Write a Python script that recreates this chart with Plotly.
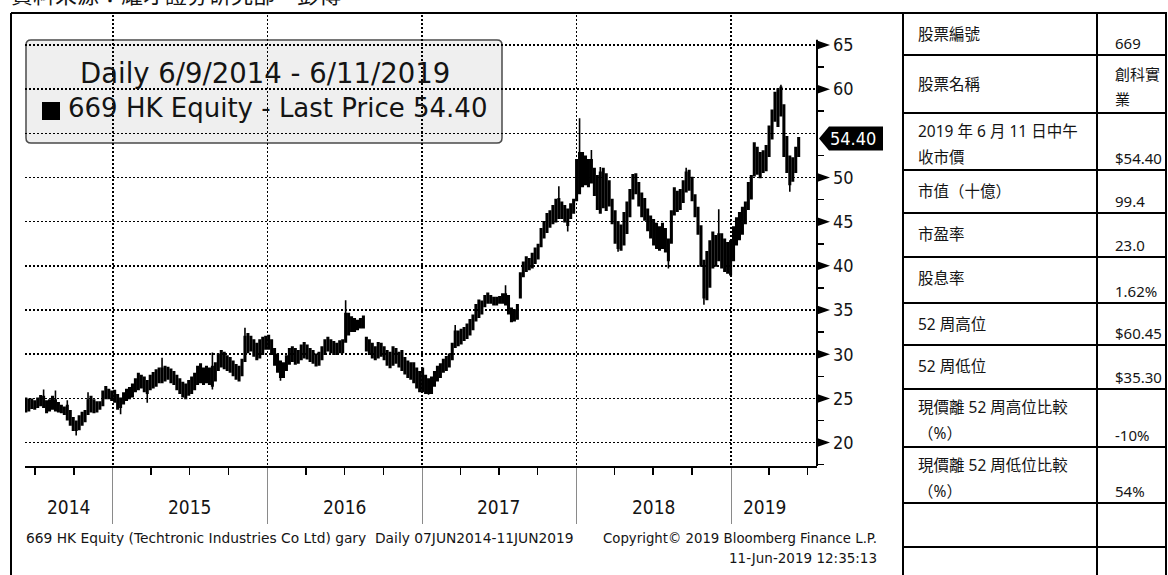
import pandas as pd
import plotly.graph_objects as go

# ---------------- data (weekly price band) ----------------
week_start = ["2014-06-09", "2015-01-05", "2016-01-04", "2017-01-02", "2018-01-01", "2018-12-31"]

lo_2014 = [23.5, 23.6, 23.9, 23.8, 24.0, 24.2, 24.0, 23.4, 23.6, 23.8, 23.6, 23.5, 23.4, 23.2, 22.6,
           22.0, 21.4, 21.4, 21.5, 22.0, 22.4, 23.2, 23.5, 23.4, 23.5, 23.8, 24.2, 25.0, 25.0, 24.8]
hi_2014 = [25.0, 24.9, 24.9, 24.7, 25.0, 25.3, 25.2, 24.7, 24.8, 25.2, 24.8, 24.5, 24.2, 24.0, 24.2,
           23.6, 22.8, 22.4, 23.0, 23.4, 23.6, 24.8, 25.2, 24.8, 24.6, 24.6, 25.8, 26.3, 26.0, 25.8]

lo_2015 = [24.6, 23.8, 24.0, 24.4, 24.8, 25.0, 25.2, 25.8, 26.0, 26.2, 25.8, 25.6, 26.0, 26.2, 26.4,
           26.8, 26.8, 27.0, 27.2, 26.8, 26.6, 26.0, 25.6, 25.2, 25.0, 25.4, 25.6, 26.0, 26.6, 26.8,
           26.6, 26.8, 26.6, 26.4, 27.0, 28.2, 28.6, 28.4, 28.2, 28.0, 27.6, 27.2, 27.0, 27.6, 29.2,
           30.2, 30.4, 29.8, 29.4, 29.6, 30.0, 30.6]
hi_2015 = [25.9, 25.4, 25.0, 25.6, 26.0, 26.2, 26.6, 27.2, 27.8, 27.6, 27.4, 27.0, 27.6, 27.9, 28.2,
           28.4, 28.4, 28.6, 28.5, 28.3, 28.0, 27.6, 27.2, 26.8, 26.6, 27.0, 27.4, 27.8, 28.6, 28.9,
           28.4, 28.6, 28.4, 28.6, 29.0, 30.0, 30.4, 30.2, 29.8, 29.6, 29.2, 28.8, 28.6, 29.4, 32.0,
           32.3, 32.0, 31.6, 31.2, 31.6, 31.9, 32.0]

lo_2016 = [30.6, 30.0, 28.8, 28.0, 27.4, 27.4, 28.2, 28.9, 29.2, 28.9, 29.0, 29.4, 29.6, 29.5, 29.2,
           29.0, 28.7, 28.8, 29.4, 30.0, 30.4, 30.2, 30.0, 30.0, 30.2, 30.2, 31.4, 32.2, 32.6, 32.6,
           32.8, 33.0, 33.0, 30.4, 30.0, 29.6, 29.4, 29.6, 29.8, 29.4, 28.8, 28.5, 28.8, 29.0, 28.6,
           28.2, 27.8, 27.4, 27.2, 26.8, 26.2, 25.8]
hi_2016 = [32.1, 31.6, 30.6, 30.0, 29.2, 29.0, 29.8, 30.6, 30.8, 30.6, 30.4, 31.0, 31.3, 31.0, 30.6,
           30.4, 30.0, 30.2, 30.8, 31.6, 31.9, 31.6, 31.4, 31.2, 31.5, 31.6, 34.6, 34.6, 34.2, 34.0,
           33.8, 34.0, 34.3, 31.9, 31.6, 31.2, 30.8, 31.3, 31.2, 30.8, 30.4, 30.2, 30.8, 30.6, 30.2,
           30.4, 29.6, 29.2, 29.0, 29.0, 28.4, 28.0]

lo_2017 = [25.8, 25.6, 25.6, 25.6, 26.4, 27.0, 27.4, 28.0, 28.2, 28.6, 29.4, 30.8, 31.0, 31.2, 31.6,
           31.8, 32.2, 32.8, 33.8, 34.2, 34.6, 35.4, 35.8, 35.8, 35.6, 35.6, 35.8, 35.8, 35.6, 34.6,
           33.7, 33.8, 34.0, 36.4, 38.8, 39.4, 39.6, 39.8, 40.3, 40.8, 42.2, 43.2, 43.8, 44.4, 44.8,
           45.0, 45.4, 45.4, 45.0, 44.6, 45.4, 46.0]
hi_2017 = [28.4, 27.6, 27.2, 27.4, 28.0, 28.6, 28.9, 29.4, 29.7, 30.0, 31.2, 32.6, 32.6, 32.8, 33.0,
           33.4, 33.9, 34.4, 35.6, 36.1, 36.0, 36.6, 36.9, 36.6, 36.4, 36.4, 36.5, 36.8, 36.8, 36.6,
           35.2, 35.0, 35.6, 39.2, 40.4, 41.0, 40.8, 41.4, 42.0, 42.4, 44.2, 45.0, 45.9, 46.2, 46.8,
           47.5, 47.6, 47.2, 46.8, 46.4, 47.0, 47.5]

lo_2018 = [47.4, 48.2, 49.0, 49.2, 49.0, 49.4, 48.0, 46.4, 46.0, 46.6, 46.3, 46.8, 44.8, 42.6, 42.0,
           41.8, 42.4, 43.7, 45.6, 47.6, 48.2, 46.8, 45.6, 45.2, 44.0, 43.2, 42.4, 42.0, 41.8, 42.0,
           41.6, 40.6, 42.6, 45.8, 46.2, 46.4, 47.2, 48.4, 48.6, 47.4, 45.6, 43.6, 40.0, 36.4, 36.2,
           37.6, 39.8, 40.0, 40.6, 39.8, 39.4, 39.2]
hi_2018 = [52.0, 52.8, 52.8, 52.4, 52.0, 52.0, 51.0, 50.2, 50.6, 51.0, 50.4, 49.6, 47.5, 46.2, 45.0,
           44.6, 46.0, 47.2, 48.6, 50.3, 50.4, 49.4, 48.2, 47.6, 46.4, 45.6, 45.2, 44.8, 44.4, 44.8,
           44.2, 43.0, 46.2, 48.8, 48.4, 48.6, 49.6, 50.6, 50.8, 50.0, 48.0, 46.6, 44.5, 40.6, 41.6,
           42.8, 43.8, 43.4, 43.6, 43.6, 43.0, 42.6]

lo_2019 = [39.0, 40.6, 42.4, 43.0, 43.6, 44.8, 46.4, 47.6, 50.2, 50.4, 50.0, 50.6, 50.8, 52.4, 54.4,
           56.4, 55.8, 57.0, 52.4, 50.6, 49.2, 49.6, 50.6, 52.4]
hi_2019 = [42.8, 44.4, 45.4, 46.0, 46.6, 47.2, 49.4, 50.2, 53.9, 53.4, 52.8, 53.0, 53.6, 55.8, 57.6,
           59.6, 60.0, 60.2, 58.2, 54.6, 52.4, 52.2, 53.4, 54.5]

spike_hi = {"2014-07-21": 26.0, "2014-08-18": 25.9, "2014-09-15": 24.8, "2014-11-03": 25.7,
            "2015-04-27": 29.6, "2015-08-24": 30.2, "2015-11-09": 33.0, "2016-07-04": 36.1,
            "2017-03-20": 33.3, "2017-07-17": 37.8, "2017-11-20": 49.0, "2018-01-08": 56.7,
            "2018-02-05": 53.1, "2018-02-26": 51.2, "2018-09-17": 51.1, "2018-12-03": 46.4,
            "2019-04-29": 60.5}
spike_lo = {"2014-10-06": 20.8, "2015-01-19": 23.2, "2015-03-23": 24.5, "2015-08-24": 26.0,
            "2016-02-01": 27.0, "2017-01-16": 25.4, "2017-12-11": 43.9, "2018-04-09": 41.6,
            "2018-08-06": 39.7, "2018-10-29": 35.6, "2019-05-20": 48.4}

last_price = 54.40
y_ticks = [20, 25, 30, 35, 40, 45, 50, 55, 60, 65]
y_ticktext = ["20", "25", "30", "35", "40", "45", "50", "", "60", "65"]
y_minor = [17.5, 22.5, 27.5, 32.5, 37.5, 42.5, 47.5, 52.5, 57.5, 62.5]
year_starts = ["2015-01-01", "2016-01-01", "2017-01-01", "2018-01-01", "2019-01-01"]
quarter_ticks = ["2014-07-01", "2014-10-01",
                 "2015-04-01", "2015-07-01", "2015-10-01",
                 "2016-04-01", "2016-07-01", "2016-10-01",
                 "2017-04-01", "2017-07-01", "2017-10-01",
                 "2018-04-01", "2018-07-01", "2018-10-01",
                 "2019-04-01", "2019-07-01"]
year_labels = ["2014", "2015", "2016", "2017", "2018", "2019"]
year_label_pos = ["2014-09-20", "2015-07-02", "2016-07-02", "2017-07-02", "2018-07-02", "2019-03-22"]

table_labels = [["股票編號"], ["股票名稱"], ["2019 年 6 月 11 日中午", "收市價"], ["市值（十億）"],
                ["市盈率"], ["股息率"], ["52 周高位"], ["52 周低位"],
                ["現價離 52 周高位比較", "（%）"], ["現價離 52 周低位比較", "（%）"], [""], [""]]
table_values = [["669"], ["創科實", "業"], ["$54.40"], ["99.4"], ["23.0"], ["1.62%"],
                ["$60.45"], ["$35.30"], ["-10%"], ["54%"], [""], [""]]

# ---------------- build series ----------------
lows = [lo_2014, lo_2015, lo_2016, lo_2017, lo_2018, lo_2019]
highs = [hi_2014, hi_2015, hi_2016, hi_2017, hi_2018, hi_2019]
dates, body_lo, body_hi = [], [], []
for s, lo, hi in zip(week_start, lows, highs):
    d = pd.date_range(s, periods=len(lo), freq="7D")
    dates += [x.strftime("%Y-%m-%d") for x in d]
    body_lo += lo
    body_hi += hi
high = [max(h, spike_hi.get(d, h)) for d, h in zip(dates, body_hi)]
low = [min(l, spike_lo.get(d, l)) for d, l in zip(dates, body_lo)]

# ---------------- geometry (page pixels) ----------------
W, H = 1168, 575
L, R, T, B = 25, 817, 15, 466          # plot area
Y0, Y1 = 17.35, 68.39


def fx(p):
    return (p - L) / (R - L)


def fy(p):
    return (B - p) / (B - T)


BB = "DejaVu Sans Condensed, DejaVu Sans, sans-serif"
BBW = "DejaVu Sans, sans-serif"
TB = "Noto Sans, Noto Sans CJK TC, sans-serif"
INK = "#141414"

fig = go.Figure(go.Candlestick(
    x=dates, open=body_hi, high=high, low=low, close=body_lo,
    increasing=dict(line=dict(color="black", width=1.6), fillcolor="black"),
    decreasing=dict(line=dict(color="black", width=1.6), fillcolor="black"),
    whiskerwidth=0, hoverinfo="skip"))

shapes = []
annotations = []


def line(x0, y0, x1, y1, color="black", width=2):
    shapes.append(dict(type="line", xref="paper", yref="paper", x0=fx(x0), x1=fx(x1),
                       y0=fy(y0), y1=fy(y1), line=dict(color=color, width=width)))


def text(x, y, s, size, family=BB, anchor="left", color=INK):
    annotations.append(dict(xref="paper", yref="paper", x=fx(x), y=fy(y), text=s,
                            showarrow=False, xanchor=anchor, yanchor="middle",
                            font=dict(family=family, size=size, color=color)))


# y axis line (shape so it stops near 65)
shapes.append(dict(type="line", xref="paper", yref="y", x0=1, x1=1, y0=Y0, y1=65.6,
                   line=dict(color="black", width=2)))
# triangle ticks
for v in y_ticks:
    if v == 55:
        continue
    shapes.append(dict(type="path", xref="paper", yref="y", xsizemode="pixel", ysizemode="pixel",
                       xanchor=1, yanchor=v, path="M 0,4.5 L 13,0 L 0,-4.5 Z",
                       fillcolor="black", line=dict(width=0)))
# last price tag
shapes.append(dict(type="path", xref="paper", yref="y", xsizemode="pixel", ysizemode="pixel",
                   xanchor=1, yanchor=last_price,
                   path="M 2,0 L 12,-12 L 66,-12 L 66,12 L 12,12 Z",
                   fillcolor="black", line=dict(width=0)))
annotations.append(dict(xref="paper", yref="y", x=fx(853), y=last_price, text=f"{last_price:.2f}",
                        showarrow=False, xanchor="center", yanchor="middle",
                        font=dict(family=BB, size=18, color="white")))

# legend box (rounded) behind gridlines
bx0, by0, bx1, by1, rr = 26, 40, 502, 143, 5
pts = (f"M {bx0+rr},{by0} L {bx1-rr},{by0} Q {bx1},{by0} {bx1},{by0+rr} L {bx1},{by1-rr} "
       f"Q {bx1},{by1} {bx1-rr},{by1} L {bx0+rr},{by1} Q {bx0},{by1} {bx0},{by1-rr} "
       f"L {bx0},{by0+rr} Q {bx0},{by0} {bx0+rr},{by0} Z")


def conv(path):
    out = []
    for t in path.split():
        if "," in t:
            a, b = t.split(",")
            out.append(f"{fx(float(a)):.5f},{fy(float(b)):.5f}")
        else:
            out.append(t)
    return " ".join(out)


shapes.append(dict(type="path", xref="paper", yref="paper", path=conv(pts), layer="below",
                   fillcolor="#efefef", line=dict(color="#4a4a4a", width=1.5)))
shapes.append(dict(type="rect", xref="paper", yref="paper", x0=fx(42), x1=fx(60), y0=fy(102),
                   y1=fy(120), fillcolor="black", line=dict(width=0)))
text(265, 73, "Daily 6/9/2014 - 6/11/2019", 27.5, family=BBW, anchor="center")
text(66, 108, "669 HK Equity - Last Price 54.40", 26, family=BBW, anchor="left")

# year labels
for lab, pos in zip(year_labels, year_label_pos):
    annotations.append(dict(xref="x", yref="paper", x=pos, y=fy(507), text=lab, showarrow=False,
                            xanchor="center", yanchor="middle",
                            font=dict(family=BB, size=19, color=INK)))

# footer
text(24, 538, "669 HK Equity (Techtronic Industries Co Ltd) gary  Daily 07JUN2014-11JUN2019", 13.8,
     family=BBW)
text(879, 538, "Copyright© 2019 Bloomberg Finance L.P.", 13.3, family=BBW, anchor="right")
text(879, 558, "11-Jun-2019 12:35:13", 13.5, family=BBW, anchor="right")

# header (cut off at top of page)
text(9, -6, "資料來源：耀才證券研究部、彭博", 22, family=TB)

# chart frame
line(11, 13, 11, 600)
line(11, 13, 903, 13)

# table
row_lines = [13, 55, 113, 170, 213, 257, 303, 345, 389, 447, 503, 547]
for yv in row_lines:
    line(903, yv, 1167, yv)
for xv in [903, 1097, 1166]:
    line(xv, 13, xv, 600)
row_bottoms = row_lines[1:] + [591]
for i, (labs, vals) in enumerate(zip(table_labels, table_values)):
    top, bot = row_lines[i], row_bottoms[i]
    if len(labs) == 1:
        text(916, top + 21 if bot - top < 50 else (top + bot) / 2, labs[0], 15.5, family=TB)
    else:
        text(916, top + 18, labs[0], 15.5, family=TB)
        text(916, top + 44, labs[1], 15.5, family=TB)
    if len(vals) == 1:
        text(1113, bot - 12, vals[0], 15, family=TB)
    else:
        text(1113, top + 19, vals[0], 15, family=TB)
        text(1113, top + 44, vals[1], 15, family=TB)

fig.update_layout(
    width=W, height=H,
    margin=dict(l=L, r=W - R, t=T, b=H - B),
    paper_bgcolor="white", plot_bgcolor="white", showlegend=False,
    shapes=shapes, annotations=annotations,
    xaxis=dict(type="date", range=["2014-06-07", "2019-07-23 07:00"], rangeslider=dict(visible=False),
               tickmode="array", tickvals=year_starts, showticklabels=False,
               ticks="outside", ticklen=56, tickcolor="#8a8a8a", tickwidth=1,
               showgrid=True, gridcolor="black", gridwidth=1.5, griddash="2px,2px",
               showline=True, linecolor="black", linewidth=2, zeroline=False,
               minor=dict(tickmode="array", tickvals=quarter_ticks, ticks="outside", ticklen=7,
                          tickcolor="black", tickwidth=1.5, showgrid=False)),
    yaxis=dict(side="right", range=[Y0, Y1], tickmode="array", tickvals=y_ticks,
               ticktext=y_ticktext,
               ticks="", showgrid=True, gridcolor="black", gridwidth=1.5, griddash="2px,2px",
               showline=False, zeroline=False, ticklabelstandoff=15,
               tickfont=dict(family=BB, size=18, color=INK),
               minor=dict(tickmode="array", tickvals=y_minor, ticks="outside", ticklen=6,
                          tickcolor="black", tickwidth=1.5, showgrid=False)),
)

fig.write_html("out.html",
               config={"displayModeBar": False, "staticPlot": True},
               post_script="document.body.style.margin='0px';"
                           "document.documentElement.style.overflow='hidden';")
